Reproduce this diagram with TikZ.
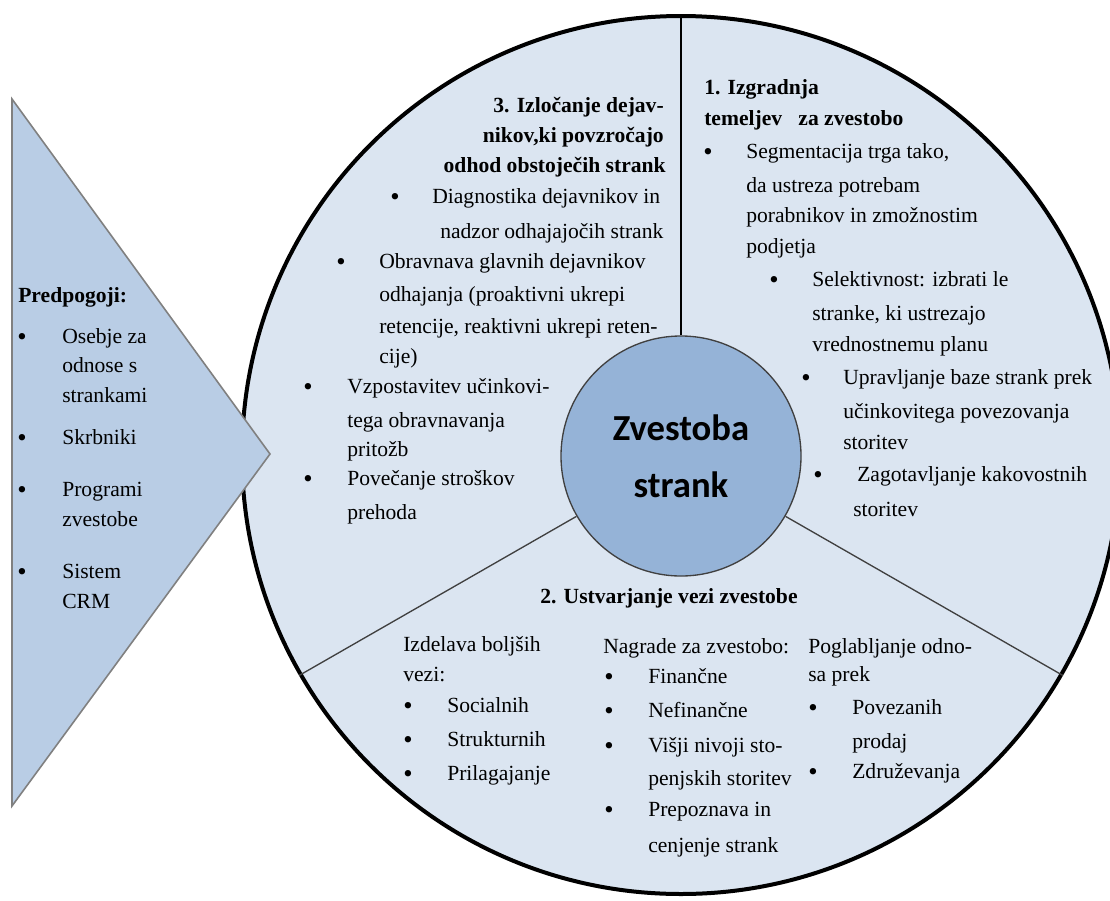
\documentclass[tikz,border=0pt]{standalone}
\usepackage{fontspec}
\setmainfont{Liberation Serif}
\newfontfamily\centerfont{Carlito}
\definecolor{ringfill}{HTML}{DBE5F1}
\definecolor{hubfill}{HTML}{95B3D7}
\definecolor{arrowfill}{HTML}{B9CDE5}
\definecolor{arrowedge}{HTML}{808080}
\definecolor{lineedge}{HTML}{404040}
\newcommand{\bodyfont}{\fontsize{16.2pt}{20pt}\selectfont}
\newcommand{\bulfont}{\fontsize{20pt}{20pt}\selectfont}
\begin{document}
\begin{tikzpicture}[x=0.75pt,y=-0.75pt,
  txtl/.style={anchor=base west,inner sep=0pt,font=\bodyfont},
  hdl/.style={anchor=base west,inner sep=0pt,font=\bodyfont\bfseries},
  hdr/.style={anchor=base east,inner sep=0pt,font=\bodyfont\bfseries},
  bul/.style={anchor=base,inner sep=0pt,font=\bulfont,yshift=-2.2pt},
  divider/.style={line width=1pt,draw=lineedge}]
\useasboundingbox (0,0) rectangle (1110,900);
\clip (0,0) rectangle (1110,900);
% outer ring
\node[circle,draw=black,line width=3pt,fill=ringfill,minimum size=658.5pt,inner sep=0pt] (ring) at (681,455) {};
% hub
\node[circle,draw=lineedge,line width=1pt,fill=hubfill,minimum size=180pt,inner sep=0pt,
  align=center,font=\centerfont\bfseries\fontsize{27.5pt}{42.75pt}\selectfont] (hub) at (681,456) {Zvestoba\\strank};
% dividers
\draw[line width=1.2pt,draw=black] (hub.90) -- (ring.90);
\draw[divider] (hub.210) -- (ring.210);
\draw[divider] (hub.330) -- (ring.330);
% arrow triangle
\coordinate (tA) at (12,99);
\coordinate (tB) at (270,454);
\coordinate (tC) at (12,806);
\draw[fill=arrowfill,draw=arrowedge,line width=1.2pt] (tA) -- (tB) -- (tC) -- cycle;
% prerequisites
\node[hdl] (pre) at (18,302) {Predpogoji:};
\node[bul] (pb1) at (22,343) {•};
\node[txtl] (p1a) at (62,343) {Osebje za};
\node[txtl] (p1b) at (62,372) {odnose s};
\node[txtl] (p1c) at (62,402) {strankami};
\node[bul] (pb2) at (22,444) {•};
\node[txtl] (p2a) at (62,444) {Skrbniki};
\node[bul] (pb3) at (22,496) {•};
\node[txtl] (p3a) at (62,496) {Programi};
\node[txtl] (p3b) at (62,526) {zvestobe};
\node[bul] (pb4) at (22,578) {•};
\node[txtl] (p4a) at (62,578) {Sistem};
\node[txtl] (p4b) at (62,608) {CRM};
% section 3
\node[hdr] (h3a) at (664,112) {3. Izločanje dejav-};
\node[hdr] (h3b) at (664,142) {nikov,ki povzročajo};
\node[hdr] (h3c) at (666,172) {odhod obstoječih strank};
\node[bul] (s3b1) at (395,203) {•};
\node[txtl] (s3a1) at (432,203) {Diagnostika dejavnikov in};
\node[txtl] (s3a2) at (440,238) {nadzor odhajajočih strank};
\node[bul] (s3b2) at (341,268) {•};
\node[txtl] (s3c1) at (379,268) {Obravnava glavnih dejavnikov};
\node[txtl] (s3c2) at (379,301) {odhajanja (proaktivni ukrepi};
\node[txtl] (s3c3) at (379,333) {retencije, reaktivni ukrepi reten-};
\node[txtl] (s3c4) at (379,363) {cije)};
\node[bul] (s3b3) at (308,393) {•};
\node[txtl] (s3d1) at (347,393) {Vzpostavitev učinkovi-};
\node[txtl] (s3d2) at (347,427) {tega obravnavanja};
\node[txtl] (s3d3) at (347,456) {pritožb};
\node[bul] (s3b4) at (308,485) {•};
\node[txtl] (s3e1) at (347,485) {Povečanje stroškov};
\node[txtl] (s3e2) at (347,519) {prehoda};
% section 1
\node[hdl] (h1a) at (704,94) {1. Izgradnja};
\node[hdl] (h1b) at (704,125) {temeljev\ \ \ za zvestobo};
\node[bul] (s1b1) at (708,158) {•};
\node[txtl] (s1a1) at (746,158) {Segmentacija trga tako,};
\node[txtl] (s1a2) at (746,192) {da ustreza potrebam};
\node[txtl] (s1a3) at (746,222) {porabnikov in zmožnostim};
\node[txtl] (s1a4) at (746,253) {podjetja};
\node[bul] (s1b2) at (774,286) {•};
\node[txtl] (s1c1) at (812,286) {Selektivnost: izbrati le};
\node[txtl] (s1c2) at (812,320) {stranke, ki ustrezajo};
\node[txtl] (s1c3) at (812,351) {vrednostnemu planu};
\node[bul] (s1b3) at (806,384) {•};
\node[txtl] (s1d1) at (843,384) {Upravljanje baze strank prek};
\node[txtl] (s1d2) at (843,418) {učinkovitega povezovanja};
\node[txtl] (s1d3) at (843,449) {storitev};
\node[bul] (s1b4) at (818,481) {•};
\node[txtl] (s1e1) at (857,481) {Zagotavljanje kakovostnih};
\node[txtl] (s1e2) at (853,516) {storitev};
% section 2
\node[hdl] (h2) at (540,603) {2. Ustvarjanje vezi zvestobe};
\node[txtl] (c1a) at (403,651) {Izdelava boljših};
\node[txtl] (c1b) at (403,681) {vezi:};
\node[bul] (c1b1) at (408,712) {•};
\node[txtl] (c1c) at (447,712) {Socialnih};
\node[bul] (c1b2) at (408,746) {•};
\node[txtl] (c1d) at (447,746) {Strukturnih};
\node[bul] (c1b3) at (408,780) {•};
\node[txtl] (c1e) at (447,780) {Prilagajanje};
\node[txtl] (c2a) at (603,653) {Nagrade za zvestobo:};
\node[bul] (c2b1) at (609,683) {•};
\node[txtl] (c2b) at (648,683) {Finančne};
\node[bul] (c2b2) at (609,717) {•};
\node[txtl] (c2c) at (648,717) {Nefinančne};
\node[bul] (c2b3) at (609,752) {•};
\node[txtl] (c2d) at (648,752) {Višji nivoji sto-};
\node[txtl] (c2e) at (648,785) {penjskih storitev};
\node[bul] (c2b4) at (609,816) {•};
\node[txtl] (c2f) at (648,816) {Prepoznava in};
\node[txtl] (c2g) at (648,852) {cenjenje strank};
\node[txtl] (c3a) at (808,653) {Poglabljanje odno-};
\node[txtl] (c3b) at (808,681) {sa prek};
\node[bul] (c3b1) at (813,714) {•};
\node[txtl] (c3c) at (852,714) {Povezanih};
\node[txtl] (c3d) at (852,748) {prodaj};
\node[bul] (c3b2) at (813,778) {•};
\node[txtl] (c3e) at (852,778) {Združevanja};
\end{tikzpicture}
\end{document}
